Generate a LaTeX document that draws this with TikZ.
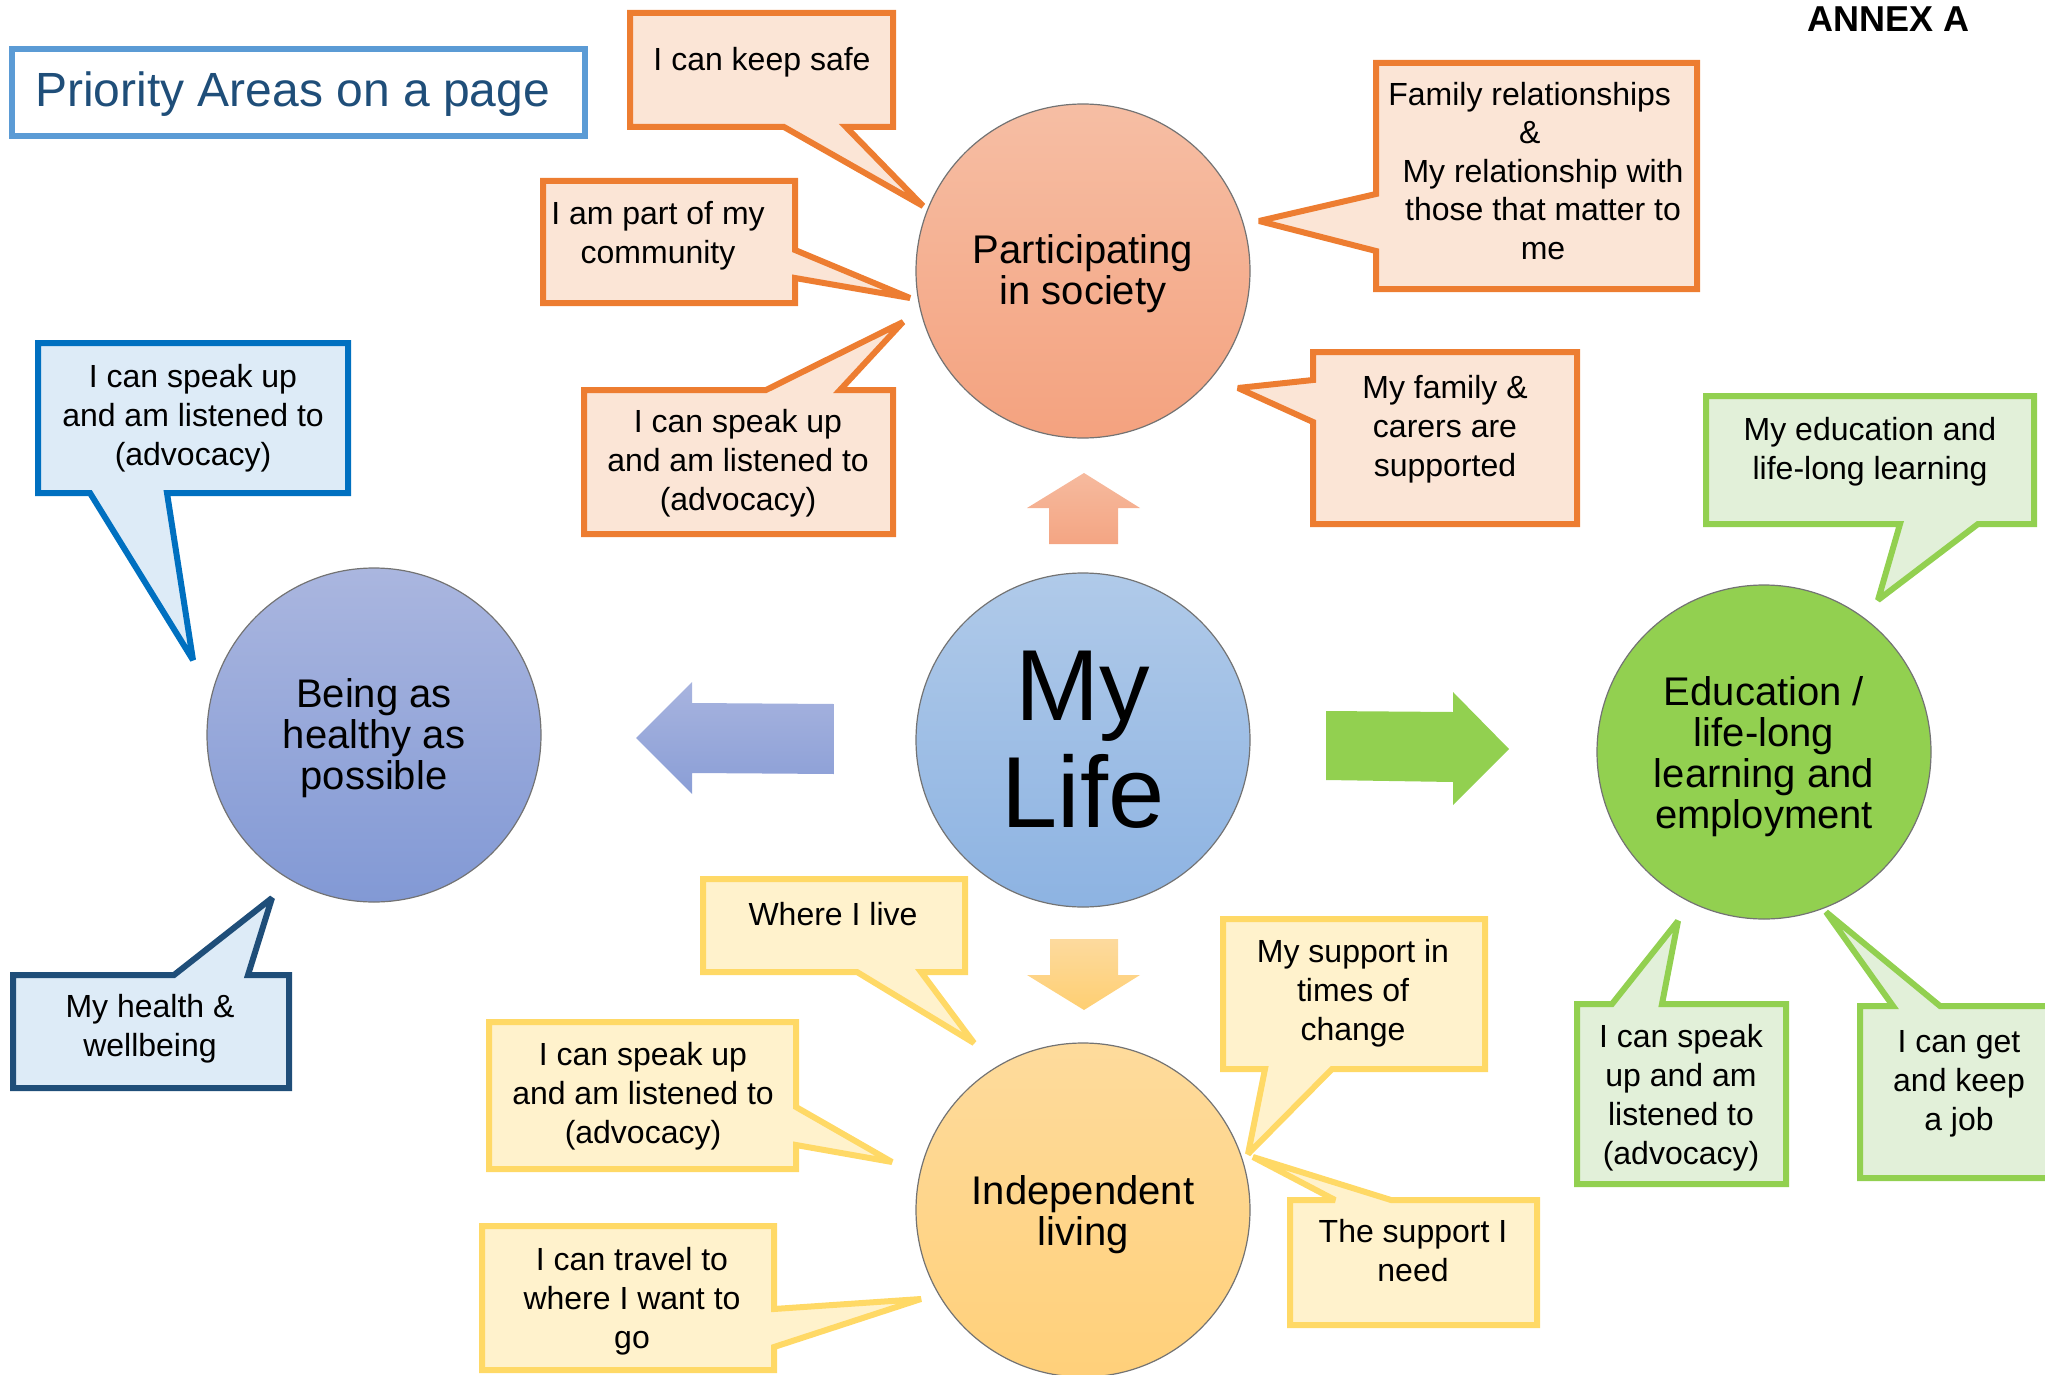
\documentclass[tikz,border=0pt]{standalone}
\usepackage{fontspec}
\setmainfont{Liberation Sans}
\definecolor{oBorder}{HTML}{ED7D31}
\definecolor{oFill}{HTML}{FBE5D6}
\definecolor{gBorder}{HTML}{92D050}
\definecolor{gFill}{HTML}{E2F0D9}
\definecolor{bBorder}{HTML}{0070C0}
\definecolor{bFill}{HTML}{DDEBF7}
\definecolor{dbBorder}{HTML}{1F4E79}
\definecolor{yBorder}{HTML}{FFD966}
\definecolor{yFill}{HTML}{FFF2CC}
\definecolor{titleBorder}{HTML}{5B9BD5}
\definecolor{titleText}{HTML}{1F4E79}
\definecolor{partTop}{HTML}{F6BEA4}
\definecolor{partBot}{HTML}{F4A27F}
\definecolor{lifeTop}{HTML}{B0CAE9}
\definecolor{lifeBot}{HTML}{8DB3E2}
\definecolor{healTop}{HTML}{AAB6DF}
\definecolor{healBot}{HTML}{8299D5}
\definecolor{eduFill}{HTML}{92D050}
\definecolor{indTop}{HTML}{FEDB9C}
\definecolor{indBot}{HTML}{FFD07A}
\definecolor{upTop}{HTML}{F6BA9E}
\definecolor{upBot}{HTML}{F4A583}
\definecolor{leftTop}{HTML}{A8B4DF}
\definecolor{leftBot}{HTML}{8A9ED6}
\definecolor{downTop}{HTML}{FDDA9E}
\definecolor{downBot}{HTML}{FECF72}
\begin{document}
\begin{tikzpicture}[x=1pt,y=-1pt,
  callout/.style={line width=6pt, line join=miter, miter limit=3},
  callO/.style={callout, draw=oBorder, fill=oFill},
  callG/.style={callout, draw=gBorder, fill=gFill},
  callB/.style={callout, draw=bBorder, fill=bFill},
  callDB/.style={callout, draw=dbBorder, fill=bFill},
  callY/.style={callout, draw=yBorder, fill=yFill},
  ctext/.style={anchor=north, align=center, inner sep=0pt, font=\fontsize{32}{39}\selectfont},
  areacirc/.style={circle, minimum size=334pt, inner sep=0pt, draw=black!55, line width=1.2pt},
  circtext/.style={align=center, inner sep=0pt, font=\fontsize{40}{41}\selectfont},
]
\clip (0,0) rectangle (2045,1375);

% title and annex
\draw[titleBorder, line width=6pt] (12,49) rectangle (585,136);
\node[anchor=base west, inner sep=0pt, text=titleText, font=\fontsize{48}{50}\selectfont] (title) at (35,107) {Priority Areas on a page};
\node[anchor=base west, inner sep=0pt, font=\fontsize{36}{38}\selectfont\bfseries] (annex) at (1807,32) {ANNEX A};

% circles
\node[areacirc, top color=partTop, bottom color=partBot] (part) at (1083,271) {};
\node[circtext] (partT) at ([yshift=-3pt]part.center) {Participating\\in society};
\node[areacirc, top color=lifeTop, bottom color=lifeBot] (life) at (1083,740) {};
\node[circtext, font=\fontsize{101}{107}\selectfont] (lifeT) at (life.center) {My\\Life};
\node[areacirc, top color=healTop, bottom color=healBot] (heal) at (374,735) {};
\node[circtext] (healT) at ([yshift=-3pt]heal.center) {Being as\\healthy as\\possible};
\node[areacirc, fill=eduFill] (edu) at (1764,752) {};
\node[circtext] (eduT) at ([yshift=-4.5pt]edu.center) {Education /\\life-long\\learning and\\employment};
\node[areacirc, top color=indTop, bottom color=indBot] (ind) at (1083,1210) {};
\node[circtext] (indT) at ([yshift=-4.5pt]ind.center) {Independent\\living};

% block arrows
\shade[top color=upTop, bottom color=upBot] (1049,544) -- (1049,508) -- (1027,508) -- (1084,473) -- (1140,508) -- (1118,508) -- (1118,544) -- cycle;
\shade[top color=leftTop, bottom color=leftBot] (834,704) -- (692,703) -- (692,682) -- (636,738) -- (692,794) -- (692,773) -- (834,774) -- cycle;
\fill[eduFill] (1326,711) -- (1453,712) -- (1453,692) -- (1509,749) -- (1453,805) -- (1453,782) -- (1326,780) -- cycle;
\shade[top color=downTop, bottom color=downBot] (1050,939) -- (1118,939) -- (1118,975) -- (1140,975) -- (1084,1010) -- (1027,975) -- (1050,975) -- cycle;

% orange callouts
\draw[callO] (630,13) -- (893,13) -- (893,127) -- (846,127) -- (923,206) -- (784,127) -- (630,127) -- cycle;
\node[ctext] (tSafe) at (762,47) {I can keep safe};
\draw[callO] (543,181) -- (795,181) -- (795,250) -- (910,298) -- (795,278) -- (795,303) -- (543,303) -- cycle;
\node[ctext] (tComm) at (658,201) {I am part of my\\community};
\draw[callO] (584,390) -- (766,390) -- (903,322) -- (840,390) -- (893,390) -- (893,534) -- (584,534) -- cycle;
\node[ctext] (tAdvO) at (738,409) {I can speak up\\and am listened to\\(advocacy)};
\draw[callO] (1376,63) -- (1697,63) -- (1697,289) -- (1376,289) -- (1376,251) -- (1259,221) -- (1376,194) -- cycle;
\node[ctext, font=\fontsize{32}{38.5}\selectfont] (tFam) at (1543,82) {Family relationships\phantom{M}\\\&\phantom{M}\\My relationship with\\those that matter to\\me};
\draw[callO] (1313,352) -- (1577,352) -- (1577,524) -- (1313,524) -- (1313,422) -- (1238,388) -- (1313,380) -- cycle;
\node[ctext] (tCarers) at (1445,375) {My family \&\\carers are\\supported};

% green callouts
\draw[callG] (1706,396) -- (2034,396) -- (2034,524) -- (1978,524) -- (1878,600) -- (1900,524) -- (1706,524) -- cycle;
\node[ctext] (tEdu) at (1870,417) {My education and\\life-long learning};
\draw[callG] (1577,1004) -- (1612,1004) -- (1678,921) -- (1662,1004) -- (1786,1004) -- (1786,1184) -- (1577,1184) -- cycle;
\node[ctext] (tAdvG) at (1681,1024) {I can speak\\up and am\\listened to\\(advocacy)};
\draw[callG] (1860,1006) -- (1893,1006) -- (1826,912) -- (1940,1006) -- (2062,1006) -- (2062,1178) -- (1860,1178) -- cycle;
\node[ctext] (tJob) at (1959,1030) {I can get\\and keep\\a job};

% blue callouts
\draw[callB] (38,343) -- (348,343) -- (348,493) -- (167,493) -- (193,660) -- (90,493) -- (38,493) -- cycle;
\node[ctext] (tAdvB) at (193,364) {I can speak up\\and am listened to\\(advocacy)};
\draw[callDB] (13,975) -- (174,975) -- (272,898) -- (248,975) -- (289,975) -- (289,1088) -- (13,1088) -- cycle;
\node[ctext] (tHealth) at (150,994) {My health \&\\wellbeing};

% yellow callouts
\draw[callY] (703,879) -- (965,879) -- (965,972) -- (921,972) -- (974,1043) -- (857,972) -- (703,972) -- cycle;
\node[ctext] (tLive) at (833,902) {Where I live};
\draw[callY] (489,1022) -- (796,1022) -- (796,1107) -- (892,1162) -- (796,1145) -- (796,1169) -- (489,1169) -- cycle;
\node[ctext] (tAdvY) at (643,1042) {I can speak up\\and am listened to\\(advocacy)};
\draw[callY] (482,1226) -- (774,1226) -- (774,1309) -- (921,1299) -- (774,1347) -- (774,1370) -- (482,1370) -- cycle;
\node[ctext] (tTravel) at (632,1247) {I can travel to\\where I want to\\go};
\draw[callY] (1223,919) -- (1485,919) -- (1485,1069) -- (1332,1069) -- (1248,1154) -- (1265,1069) -- (1223,1069) -- cycle;
\node[ctext] (tChange) at (1353,939) {My support in\\times of\\change};
\draw[callY] (1290,1200) -- (1335,1200) -- (1253,1157) -- (1391,1200) -- (1537,1200) -- (1537,1325) -- (1290,1325) -- cycle;
\node[ctext] (tNeed) at (1413,1219) {The support I\\need};
\end{tikzpicture}
\end{document}
